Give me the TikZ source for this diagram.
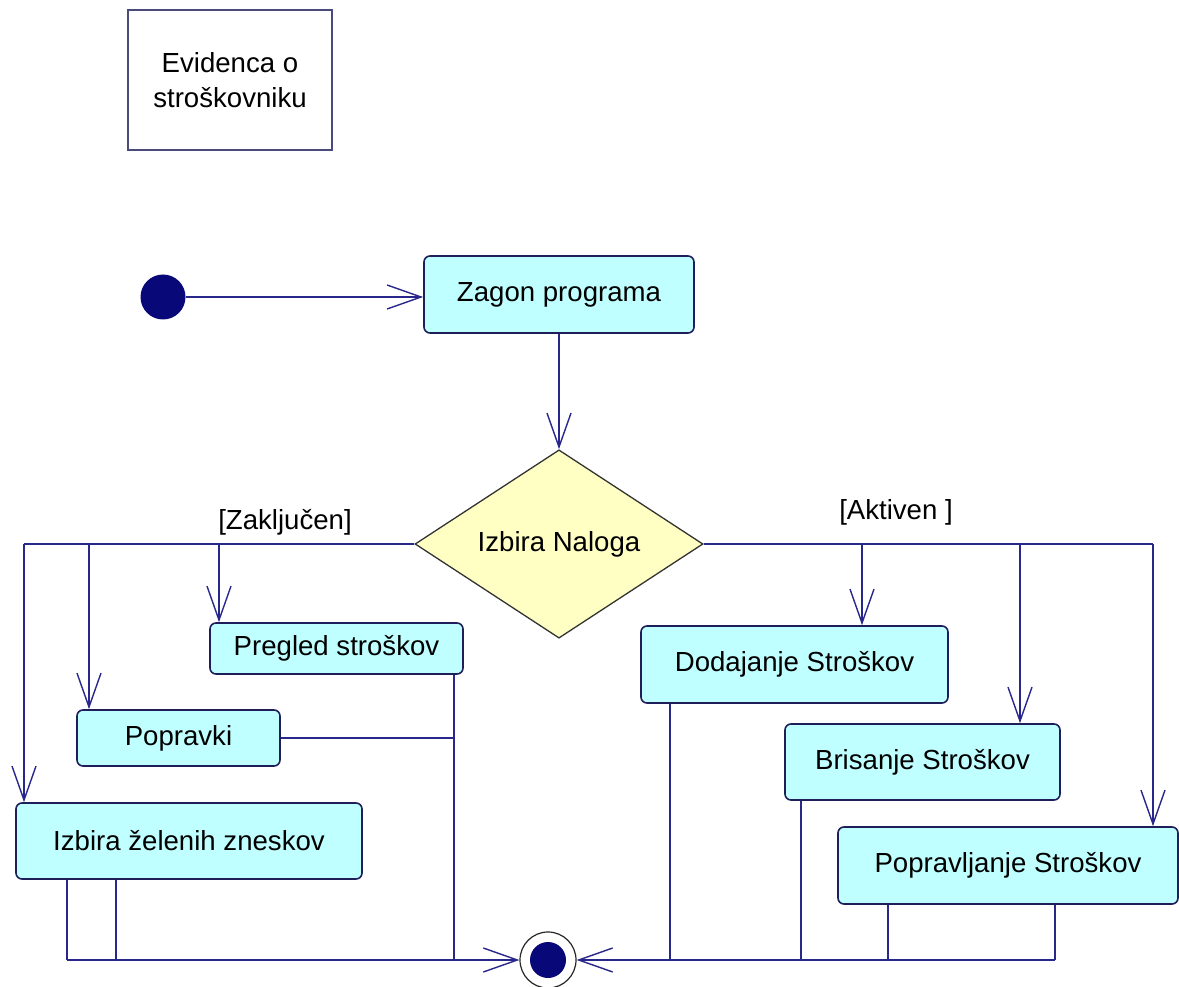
\documentclass[tikz,border=0pt]{standalone}
\usepackage{fontspec}
\setmainfont{Liberation Sans}
\usetikzlibrary{arrows.meta,shapes.geometric}

\definecolor{wirecol}{RGB}{40,40,140}
\definecolor{edgecol}{RGB}{30,30,90}
\definecolor{actfill}{RGB}{192,255,255}
\definecolor{decfill}{RGB}{255,255,196}
\definecolor{dotcol}{RGB}{8,8,120}

\tikzset{
  txt/.style={font=\fontsize{27.6}{35}\selectfont},
  activity/.style={txt, draw=edgecol, line width=1.6pt, fill=actfill,
    rounded corners=6pt, inner sep=0pt},
  decision/.style={txt, diamond, draw=black!80, line width=1.3pt, fill=decfill,
    inner sep=0pt, minimum width=288pt, minimum height=114pt},
  notebox/.style={txt, draw=edgecol!80, line width=1.4pt, inner sep=0pt,
    align=center, minimum width=204pt, minimum height=140pt},
  wire/.style={draw=wirecol, line width=1.8pt},
  flow/.style={wire, -{Straight Barb[length=34pt,width=24pt,line width=1.4pt]}},
  guard/.style={txt, inner sep=0pt},
}

\begin{document}
\begin{tikzpicture}[x=1pt,y=-1pt]
  \useasboundingbox[fill=white] (0,0) rectangle (1179,987);

  % note
  \node[notebox] (note) at (230,80) {Evidenca o\\stroškovniku};

  % start and final states
  \node[circle, fill=dotcol, inner sep=0pt, minimum size=45pt] (start) at (163,297) {};
  \node[circle, draw=black!85, line width=1.2pt, fill=white, inner sep=0pt,
        minimum size=56pt] (fin) at (548,960) {};
  \fill[dotcol] (fin.center) circle (18pt);

  % activities
  \node[activity, minimum width=270pt, minimum height=77pt] (zagon) at (559,294.5) {Zagon programa};
  \node[decision] (dec) at (559,544) {Izbira Naloga};

  \node[activity, minimum width=253pt, minimum height=51pt] (pregled) at (336.5,648.5) {Pregled stroškov};
  \node[activity, minimum width=203pt, minimum height=56pt] (popravki) at (178.5,738) {Popravki};
  \node[activity, minimum width=346pt, minimum height=76pt] (izbira) at (189,841) {Izbira želenih zneskov};

  \node[activity, minimum width=307pt, minimum height=77pt] (dodajanje) at (794.5,664.5) {Dodajanje Stroškov};
  \node[activity, minimum width=275pt, minimum height=76pt] (brisanje) at (922.5,762) {Brisanje Stroškov};
  \node[activity, minimum width=340pt, minimum height=77pt] (popravljanje) at (1008,865.5) {Popravljanje Stroškov};

  % guards
  \node[guard] (gz) at (285,522) {[Zaključen]};
  \node[guard] (ga) at (896,512) {[Aktiven ]};

  % top flow
  \draw[flow] (start) -- (start -| zagon.west);
  \draw[flow] (zagon) -- (dec);

  % left branch bus
  \coordinate (L0) at (24,544);
  \coordinate (L1) at (89,544);
  \coordinate (L2) at (219,544);
  \draw[wire] (dec.west) -- (L0);
  \draw[flow] (L0) -- (L0 |- izbira.north);
  \draw[flow] (L1) -- (L1 |- popravki.north);
  \draw[flow] (L2) -- (L2 |- pregled.north);

  % right branch bus
  \coordinate (R0) at (862,544);
  \coordinate (R1) at (1020,544);
  \coordinate (R2) at (1153,544);
  \draw[wire] (dec.east) -- (R2);
  \draw[flow] (R0) -- (R0 |- dodajanje.north);
  \draw[flow] (R1) -- (R1 |- brisanje.north);
  \draw[flow] (R2) -- (R2 |- popravljanje.north);

  % left merge
  \coordinate (B0) at (67,960);
  \coordinate (B1) at (116,960);
  \coordinate (B2) at (454,960);
  \draw[wire] (B0 |- izbira.south) -- (B0);
  \draw[wire] (B1 |- izbira.south) -- (B1);
  \draw[wire] (B2 |- pregled.south) -- (B2);
  \draw[wire] (popravki.east) -- (popravki.east -| B2);
  \draw[flow] (B0) -- (fin.west);

  % right merge
  \coordinate (C0) at (670,960);
  \coordinate (C1) at (801,960);
  \coordinate (C2) at (888,960);
  \coordinate (C3) at (1055,960);
  \draw[wire] (C0 |- dodajanje.south) -- (C0);
  \draw[wire] (C1 |- brisanje.south) -- (C1);
  \draw[wire] (C2 |- popravljanje.south) -- (C2);
  \draw[wire] (C3 |- popravljanje.south) -- (C3);
  \draw[flow] (C3) -- (fin.east);
\end{tikzpicture}
\end{document}
